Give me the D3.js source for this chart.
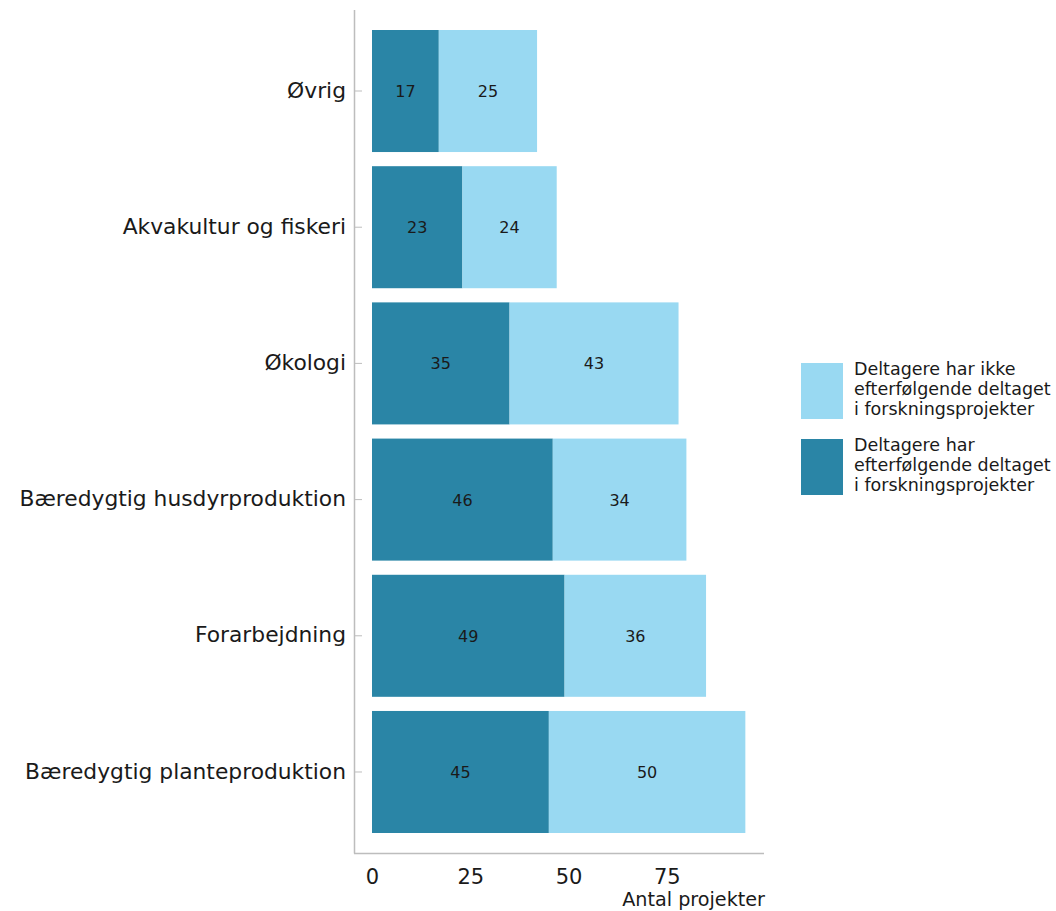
<!DOCTYPE html>
<html><head><meta charset="utf-8">
<script src="https://cdn.jsdelivr.net/npm/d3@7"></script>
<style>body{margin:0;background:#fff}svg{display:block}text{font-family:"DejaVu Sans",sans-serif;fill:#1a1a1a}</style>
</head><body>
<svg id="c" width="1056" height="911"></svg>
<script>
const categories = ["Øvrig","Akvakultur og fiskeri","Økologi","Bæredygtig husdyrproduktion","Forarbejdning","Bæredygtig planteproduktion"];
const deltaget = [17,23,35,46,49,45];
const ikkeDeltaget = [25,24,43,34,36,50];
const xTicks = [0,25,50,75];
const seriesNames = ["Deltagere har efterfølgende deltaget i forskningsprojekter","Deltagere har ikke efterfølgende deltaget i forskningsprojekter"];
const legendLines = [["Deltagere har ikke","efterfølgende deltaget","i forskningsprojekter"],["Deltagere har","efterfølgende deltaget","i forskningsprojekter"]];
const colors = ["#2a85a6","#99d9f2"];

const svg = d3.select("#c");
const x = d3.scaleLinear().domain([0,100]).range([372, 765]);
const y = d3.scaleBand().domain(categories).range([30, 833]).paddingInner(0.104).paddingOuter(0);

const rows = categories.map((c,i)=>({c, a:deltaget[i], b:ikkeDeltaget[i]}));
const stack = d3.stack().keys(["a","b"])(rows);

stack.forEach((s,si)=>{
  svg.append("g").selectAll("rect").data(s).join("rect")
    .attr("x", d=>x(d[0])).attr("width", d=>x(d[1])-x(d[0]))
    .attr("y", d=>y(d.data.c)).attr("height", y.bandwidth())
    .attr("fill", colors[si]);
  svg.append("g").selectAll("text").data(s).join("text")
    .attr("x", d=>(x(d[0])+x(d[1]))/2).attr("y", d=>y(d.data.c)+y.bandwidth()/2)
    .attr("dy","0.38em").attr("text-anchor","middle").attr("font-size",16)
    .text(d=>d[1]-d[0]);
});

// axes
const axisColor = "#bdbdbd";
svg.append("line").attr("x1",354.5).attr("x2",354.5).attr("y1",10).attr("y2",853.5).attr("stroke",axisColor).attr("stroke-width",1.5);
svg.append("line").attr("x1",354).attr("x2",764).attr("y1",853.5).attr("y2",853.5).attr("stroke",axisColor).attr("stroke-width",1.5);

categories.forEach(c=>{
  const cy = y(c)+y.bandwidth()/2;
  svg.append("line").attr("x1",355).attr("x2",362).attr("y1",cy).attr("y2",cy).attr("stroke",axisColor);
  svg.append("text").attr("x",346).attr("y",cy).attr("dy","0.3em").attr("text-anchor","end")
    .attr("font-size",21.8).text(c);
});

const xa = svg.append("g").attr("transform","translate(0,853)")
  .call(d3.axisBottom(x).tickValues(xTicks).tickSize(0).tickPadding(0));
xa.select(".domain").remove();
xa.selectAll("text").attr("font-size",21).attr("fill","#1a1a1a").attr("font-family","'DejaVu Sans',sans-serif").attr("dy",null).attr("y",31);

svg.append("text").attr("x",765).attr("y",906).attr("text-anchor","end").attr("font-size",19.2).text("Antal projekter");

// legend
const legY = [363, 439];
[1,0].forEach((si,k)=>{
  svg.append("rect").attr("x",801).attr("y",legY[k]).attr("width",42).attr("height",56).attr("fill",colors[si]);
  legendLines[k].forEach((ln,j)=>{
    svg.append("text").attr("x",854).attr("y",legY[k]+12+j*20).attr("font-size",17.5).text(ln);
  });
});
</script>
</body></html>
